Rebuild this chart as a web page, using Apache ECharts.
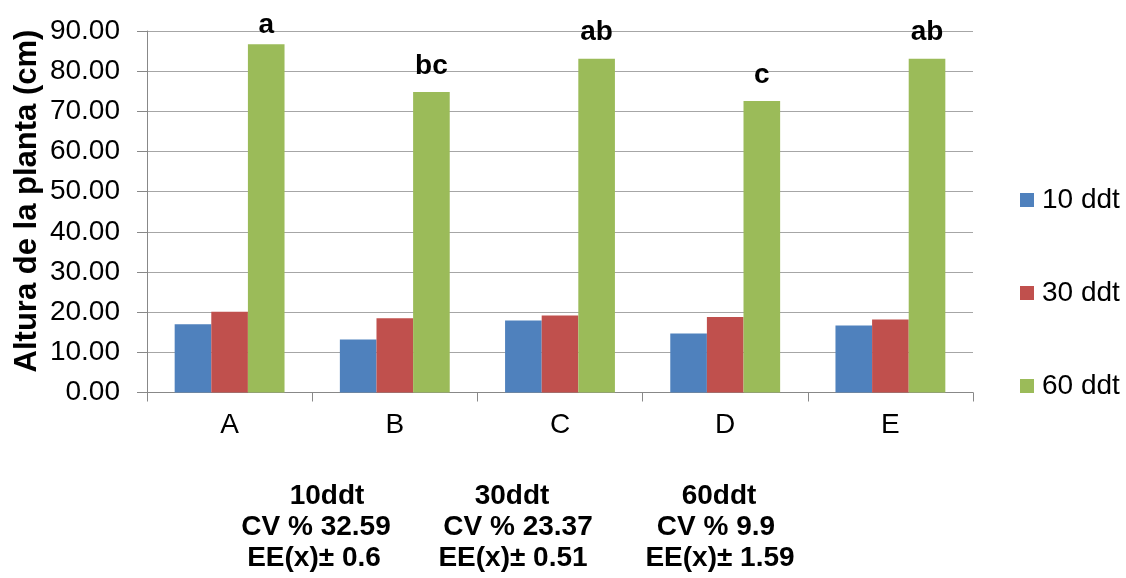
<!DOCTYPE html>
<html>
<head>
<meta charset="utf-8">
<script src="https://cdn.jsdelivr.net/npm/echarts@6/dist/echarts.min.js"></script>
<style>
html,body{margin:0;padding:0;background:#fff;}
#chart{width:1126px;height:578px;}
</style>
</head>
<body>
<div id="chart"></div>
<script>
const categories = ['A', 'B', 'C', 'D', 'E'];
const seriesNames = ['10 ddt', '30 ddt', '60 ddt'];
const ddt10 = [17.0, 13.2, 17.9, 14.7, 16.7];
const ddt30 = [20.1, 18.5, 19.2, 18.8, 18.2];
const ddt60 = [86.7, 74.8, 83.1, 72.6, 83.1];
const letters60 = ['a', 'bc', 'ab', 'c', 'ab'];
const yAxisTitle = 'Altura de la planta (cm)';
const stats10 = ['10ddt', 'CV % 32.59', 'EE(x)± 0.6'];
const stats30 = ['30ddt', 'CV % 23.37', 'EE(x)± 0.51'];
const stats60 = ['60ddt', 'CV % 9.9', 'EE(x)± 1.59'];

const FONT = "'Liberation Sans', Arial, sans-serif";
const colors = ['#4F81BD', '#C0504D', '#9BBB59'];

// layout for the statistics block (pixel positions)
const statsX = [[327, 316, 314], [512, 518, 513], [719, 716, 720]];
const statsY = [496, 527, 558];

const graphics = [{
  type: 'text', x: 27, y: 201, rotation: Math.PI / 2,
  style: { text: yAxisTitle, font: 'bold 31px ' + FONT, fill: '#000', textAlign: 'center', textVerticalAlign: 'middle' }
}];
[stats10, stats30, stats60].forEach((block, b) => {
  block.forEach((line, i) => {
    graphics.push({
      type: 'text', x: statsX[b][i], y: statsY[i],
      style: { text: line, font: 'bold 28px ' + FONT, fill: '#000', textAlign: 'center', textVerticalAlign: 'middle' }
    });
  });
});

// the first letter sits a little closer to its bar in the reference
const greenData = ddt60.map((v, i) => i === 0 ? { value: v, label: { distance: 5 } } : v);

const chart = echarts.init(document.getElementById('chart'));
chart.setOption({
  animation: false,
  backgroundColor: '#fff',
  textStyle: { fontFamily: FONT },
  grid: { left: 147, right: 153, top: 31, bottom: 185.5, containLabel: false },
  legend: {
    orient: 'vertical', left: 1015, top: 181,
    itemWidth: 14, itemHeight: 14, itemGap: 65,
    icon: 'rect',
    textStyle: { fontSize: 28, color: '#000', fontFamily: FONT, padding: [0, 0, 0, 3] },
    data: seriesNames
  },
  xAxis: {
    type: 'category', data: categories,
    axisLine: { lineStyle: { color: '#888', width: 1 } },
    axisTick: { show: true, length: 9, lineStyle: { color: '#888' } },
    axisLabel: { fontSize: 28, color: '#000', margin: 19, fontFamily: FONT }
  },
  yAxis: {
    type: 'value', min: 0, max: 90, interval: 10,
    axisLine: { show: true, lineStyle: { color: '#888', width: 1 } },
    axisTick: { show: true, length: 10, lineStyle: { color: '#888' } },
    splitLine: { show: true, lineStyle: { color: '#a6a6a6', width: 1 } },
    axisLabel: { fontSize: 28, color: '#000', margin: 27, fontFamily: FONT, formatter: v => v.toFixed(2) }
  },
  graphic: graphics,
  series: [
    { name: seriesNames[0], type: 'bar', data: ddt10, itemStyle: { color: colors[0] }, barGap: '0%', barCategoryGap: '33.5%' },
    { name: seriesNames[1], type: 'bar', data: ddt30, itemStyle: { color: colors[1] }, barGap: '0%', barCategoryGap: '33.5%' },
    { name: seriesNames[2], type: 'bar', data: greenData, itemStyle: { color: colors[2] }, barGap: '0%', barCategoryGap: '33.5%',
      label: { show: true, position: 'top', distance: 12, fontSize: 28, fontWeight: 'bold', color: '#000', fontFamily: FONT,
        formatter: p => letters60[p.dataIndex] } }
  ]
});
</script>
</body>
</html>
